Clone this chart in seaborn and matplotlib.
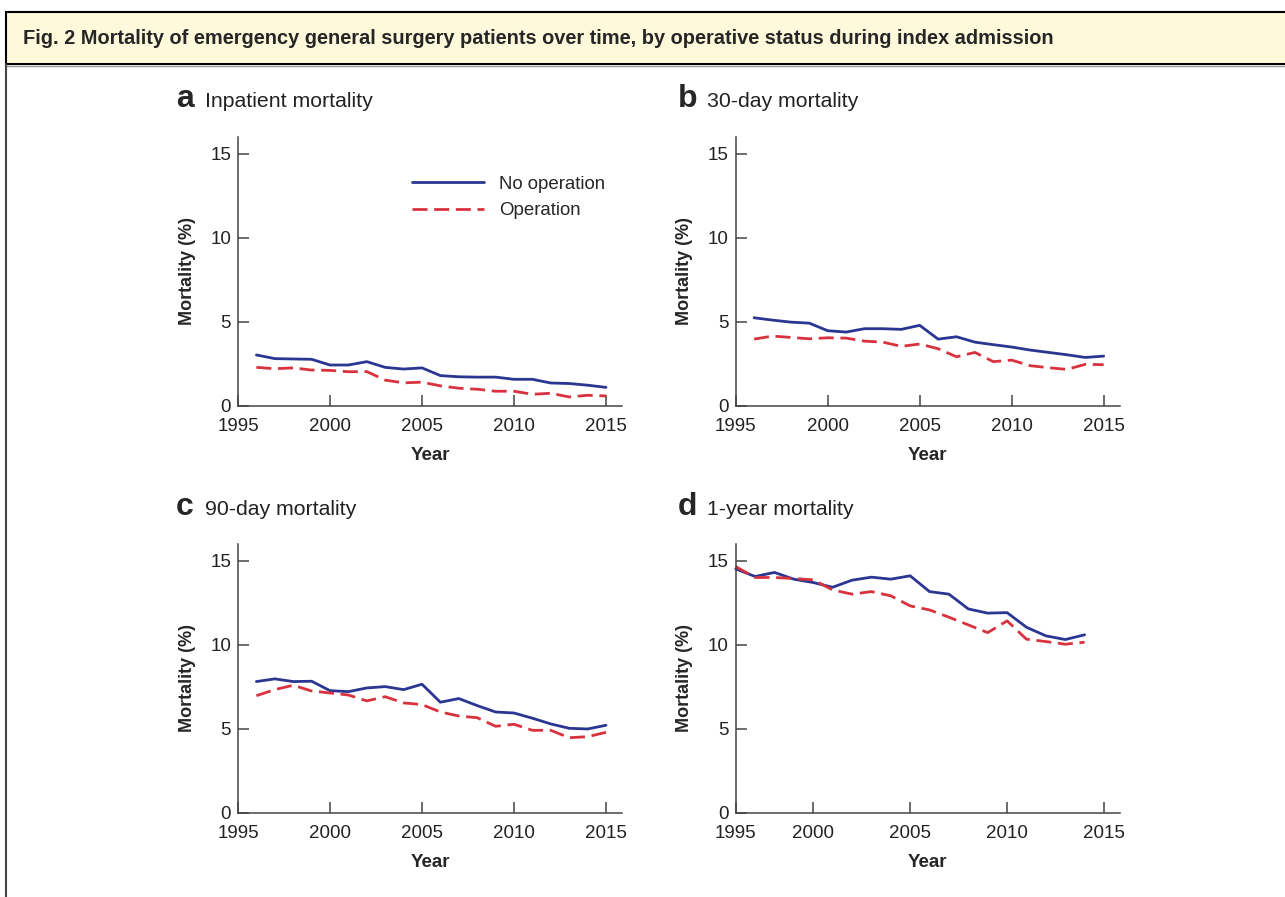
import numpy as np
import pandas as pd
import matplotlib.pyplot as plt
import seaborn as sns
from matplotlib.patches import Rectangle
from matplotlib.lines import Line2D

sns.set_style("ticks")
plt.rcParams["font.family"] = ["Liberation Sans", "DejaVu Sans"]

# data
years = list(range(1996, 2016))
years_1y = list(range(1996, 2015))

inpatient_no_op = [3.02, 2.80, 2.78, 2.76, 2.42, 2.42, 2.62, 2.28, 2.18, 2.25,
                   1.79, 1.72, 1.70, 1.70, 1.57, 1.57, 1.35, 1.32, 1.22, 1.09]
inpatient_op = [2.28, 2.20, 2.25, 2.12, 2.10, 2.02, 2.03, 1.52, 1.36, 1.40,
                1.18, 1.04, 0.98, 0.86, 0.86, 0.68, 0.74, 0.52, 0.62, 0.58]

d30_no_op = [5.23, 5.09, 4.97, 4.91, 4.46, 4.38, 4.58, 4.58, 4.54, 4.78,
             3.96, 4.10, 3.78, 3.63, 3.49, 3.31, 3.17, 3.03, 2.87, 2.95]
d30_op = [3.96, 4.14, 4.06, 3.98, 4.04, 4.02, 3.84, 3.78, 3.53, 3.67,
          3.39, 2.91, 3.17, 2.62, 2.71, 2.38, 2.26, 2.16, 2.46, 2.44]

d90_no_op = [7.80, 7.96, 7.80, 7.82, 7.26, 7.20, 7.42, 7.50, 7.32, 7.64,
             6.57, 6.79, 6.37, 5.99, 5.93, 5.62, 5.28, 5.02, 4.98, 5.20]
d90_op = [6.96, 7.32, 7.58, 7.24, 7.12, 7.00, 6.65, 6.90, 6.53, 6.43,
          5.99, 5.75, 5.65, 5.14, 5.26, 4.90, 4.90, 4.46, 4.52, 4.78]

y1_no_op = [14.50, 14.05, 14.29, 13.89, 13.69, 13.41, 13.83, 14.01, 13.89, 14.09,
            13.15, 13.00, 12.12, 11.87, 11.90, 11.03, 10.52, 10.30, 10.58]
y1_op = [14.64, 13.99, 13.99, 13.93, 13.85, 13.25, 13.00, 13.15, 12.90, 12.30,
         12.06, 11.63, 11.17, 10.71, 11.41, 10.32, 10.18, 10.02, 10.14]

panel_letters = ["a", "b", "c", "d"]
panel_titles = ["Inpatient mortality", "30-day mortality", "90-day mortality", "1-year mortality"]
series_names = ["No operation", "Operation"]
yticks = [0, 5, 10, 15]
xticks = [1995, 2000, 2005, 2010, 2015]
xticks_1y = [1996, 2000, 2005, 2010, 2015]   # the original puts "1995" at the spine
xtick_labels = ["1995", "2000", "2005", "2010", "2015"]

blue = "#2b3592"
red = "#d9323f"

W, H = 1285, 897
fig = plt.figure(figsize=(W / 100, H / 100), dpi=100)

# header band and frame
fig.patches.append(Rectangle((6 / W, 1 - 64.5 / H), 1.0, 52.5 / H, transform=fig.transFigure,
                             facecolor="#fff9dc", edgecolor="black", lw=1.5, zorder=0))
fig.lines.append(Line2D([6 / W, 1.0], [1 - 66 / H] * 2, transform=fig.transFigure,
                        color="#9a9a9a", lw=1))
fig.lines.append(Line2D([6 / W, 6 / W], [1 - 64.5 / H, 0], transform=fig.transFigure,
                        color="#444444", lw=1.5))
fig.text(23 / W, 1 - 38 / H,
         "Fig. 2 Mortality of emergency general surgery patients over time, by operative status during index admission",
         fontsize=14.4, fontweight="bold", va="center", ha="left")

# axes boxes in pixels: left edge and y of the zero line
lefts = [238, 735.7, 238, 735.7]
bottoms = [405.7, 405.7, 812.7, 812.7]
ax_w, ax_h = 384, 269

panels = [
    (years, inpatient_no_op, inpatient_op),
    (years, d30_no_op, d30_op),
    (years, d90_no_op, d90_op),
    (years_1y, y1_no_op, y1_op),
]

for i, (yrs, no_op, op) in enumerate(panels):
    ax = fig.add_axes([lefts[i] / W, 1 - bottoms[i] / H, ax_w / W, ax_h / H])
    df = pd.DataFrame({"Year": yrs + yrs,
                       "Mortality": no_op + op,
                       "Group": [series_names[0]] * len(yrs) + [series_names[1]] * len(yrs)})
    sns.lineplot(data=df[df["Group"] == series_names[0]], x="Year", y="Mortality", ax=ax,
                 color=blue, lw=2.0, label=series_names[0], clip_on=False)
    sns.lineplot(data=df[df["Group"] == series_names[1]], x="Year", y="Mortality", ax=ax,
                 color=red, lw=2.0, linestyle=(0, (5.4, 2.4)), label=series_names[1], clip_on=False)

    if i == 3:
        ax.set_xlim(1996, 2015.81)
        ax.set_xticks(xticks_1y)
    else:
        ax.set_xlim(1995, 2015.87)
        ax.set_xticks(xticks)
    ax.set_xticklabels(xtick_labels)
    ax.set_ylim(0, 16)
    ax.set_yticks(yticks)

    for s in ["top", "right"]:
        ax.spines[s].set_visible(False)
    for s in ["left", "bottom"]:
        ax.spines[s].set_color("#444444")
        ax.spines[s].set_linewidth(1.1)
    ax.tick_params(direction="in", length=8, width=1.1, color="#444444",
                   labelsize=13.5, labelcolor="#222222")
    ax.tick_params(axis="x", pad=9)
    ax.tick_params(axis="y", pad=5)

    ax.set_xlabel("Year", fontsize=13.5, fontweight="bold")
    ax.set_ylabel("Mortality (%)", fontsize=13, fontweight="bold")
    ax.xaxis.set_label_coords(0.5, -0.152)
    ax.yaxis.set_label_coords(-0.11, 0.5)

    if i == 0:
        ax.legend(loc="upper left", bbox_to_anchor=(0.452, 0.855), frameon=False,
                  fontsize=13.4, handlelength=3.9, handletextpad=0.8,
                  labelspacing=0.52, borderpad=0, borderaxespad=0)
    else:
        ax.get_legend().remove()

    # panel letter and title
    lx = 176 if i % 2 == 0 else 678
    ly = 107 if i < 2 else 515
    fig.text(lx / W, 1 - ly / H, panel_letters[i], fontsize=23, fontweight="bold",
             va="baseline", ha="left")
    fig.text((lx + 29) / W, 1 - ly / H, panel_titles[i], fontsize=15.3,
             va="baseline", ha="left", color="#222222")

fig.savefig("out.png", dpi=100)
